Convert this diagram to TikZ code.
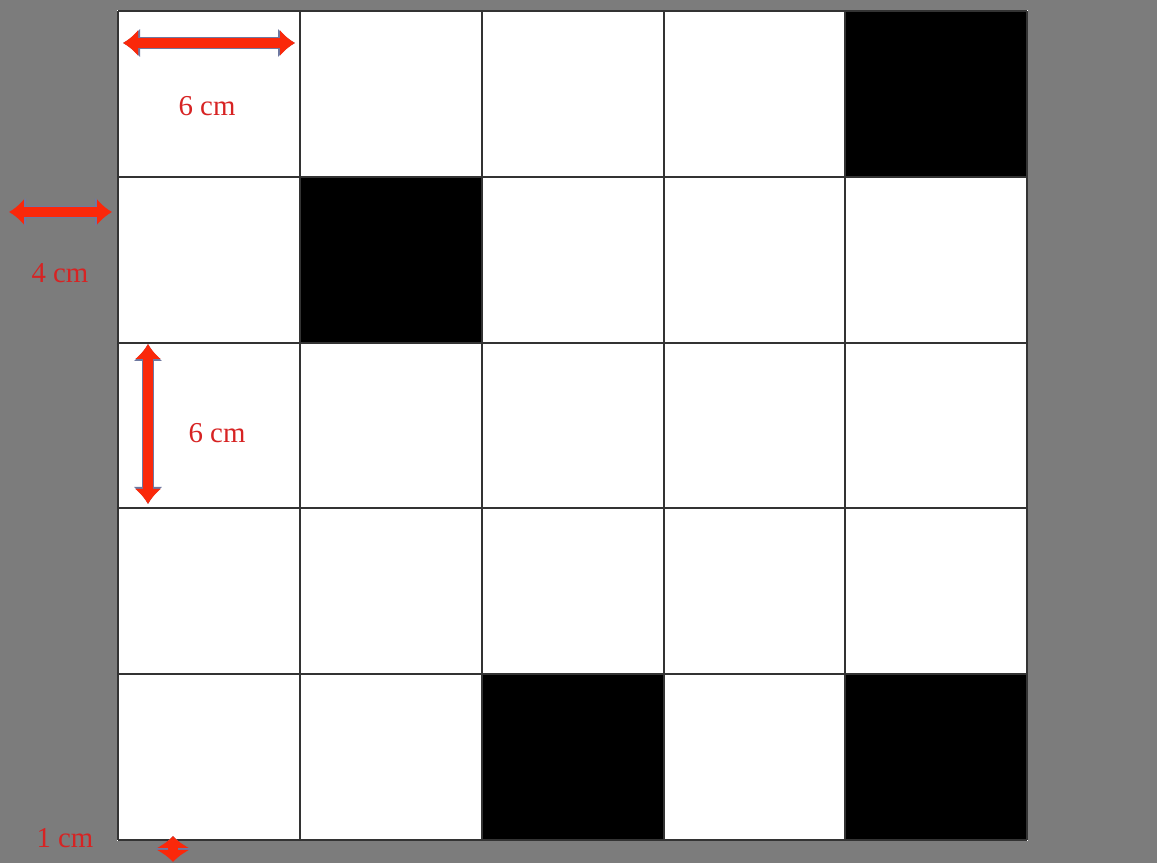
\documentclass[tikz,border=0pt]{standalone}
\usepackage{fontspec}
\setmainfont{Liberation Serif}
\usetikzlibrary{arrows.meta}
\definecolor{bggray}{RGB}{124,124,124}
\definecolor{arrred}{RGB}{250,40,10}
\definecolor{txtred}{RGB}{215,35,35}
\definecolor{rimblue}{RGB}{110,120,160}
\tikzset{
	sizearrow/.style={arrred, line width=0.1cm, {Latex[length=0.15cm,width=0.27cm]}-{Latex[length=0.15cm,width=0.27cm]},
		preaction={draw, rimblue, line width=0.12cm, {Latex[length=0.17cm,width=0.3cm]}-{Latex[length=0.17cm,width=0.3cm]}}},
	tinyarrow/.style={arrred, line width=0.1cm, {Latex[length=0.12cm,width=0.34cm]}-{Latex[length=0.12cm,width=0.34cm]},
		preaction={draw, rimblue, line width=0.12cm, {Latex[length=0.13cm,width=0.37cm]}-{Latex[length=0.13cm,width=0.37cm]}}},
	sizelabel/.style={txtred, font=\fontsize{8.2}{10}\selectfont, inner sep=0pt}
}

\begin{document}
\begin{tikzpicture}
		\useasboundingbox (0, 0) rectangle (11.57, 8.63);
		\fill[bggray] (0, 0) rectangle (11.57, 8.63);
		\filldraw[white] (1.18, 0.23) rectangle (10.27, 8.52);
		% black squares
		\fill[black] (8.45, 6.86) rectangle (10.27, 8.52);
		\fill[black] (3.0, 5.2) rectangle (4.82, 6.86);
		\fill[black] (4.82, 0.23) rectangle (6.64, 1.89);
		\fill[black] (8.45, 0.23) rectangle (10.27, 1.89);
		% grid
		\foreach \x in {1.18, 3.0, 4.82, 6.64, 8.45, 10.27}
			\draw[black!80, line width=0.4pt] (\x, 0.23) -- (\x, 8.52);
		\foreach \y in {0.23, 1.89, 3.55, 5.2, 6.86, 8.52}
			\draw[black!80, line width=0.4pt] (1.18, \y) -- (10.27, \y);
		% size marks
		\draw[sizearrow] (1.23, 8.2) -- (2.95, 8.2);
		\node[sizelabel] (sqwidth) at (2.07, 7.57) {6 cm};
		\draw[sizearrow] (0.09, 6.51) -- (1.12, 6.51);
		\node[sizelabel] (gapwidth) at (0.6, 5.9) {4 cm};
		\draw[sizearrow] (1.48, 5.19) -- (1.48, 3.59);
		\node[sizelabel] (sqheight) at (2.17, 4.3) {6 cm};
		\draw[tinyarrow] (1.73, 0.27) -- (1.73, 0.01);
		\node[sizelabel] (edge) at (0.65, 0.25) {1 cm};
	\end{tikzpicture}
\end{document}
